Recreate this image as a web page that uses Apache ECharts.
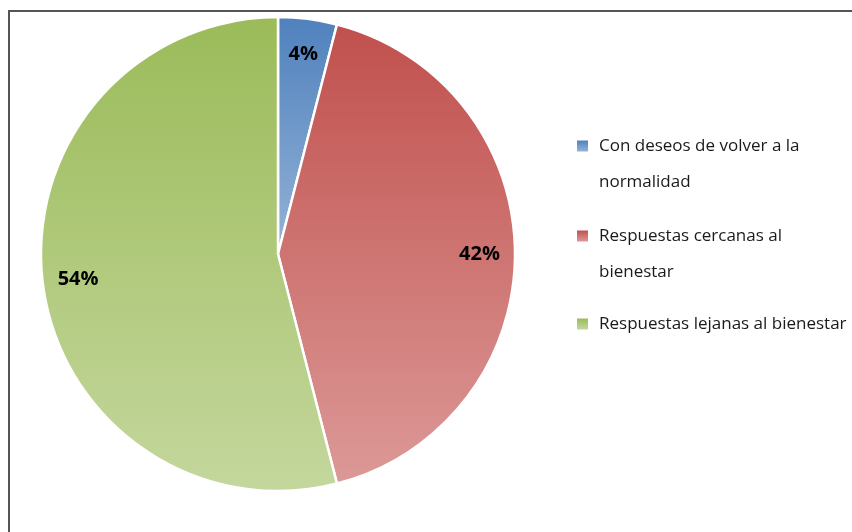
<!DOCTYPE html>
<html>
<head>
<meta charset="utf-8">
<script src="https://cdn.jsdelivr.net/npm/echarts@6/dist/echarts.min.js"></script>
<style>
  html, body { margin: 0; padding: 0; background: #ffffff; }
  #wrap { position: relative; width: 852px; height: 532px; overflow: hidden; }
  #frame { position: absolute; left: 8px; top: 10px; width: 900px; height: 600px;
           border-left: 2px solid #555555; border-top: 2px solid #555555; }
  #chart { position: absolute; left: 0; top: 0; width: 852px; height: 532px; }
</style>
</head>
<body>
<div id="wrap">
  <div id="frame"></div>
  <div id="chart"></div>
</div>
<script>
// Categories and their shares (percent)
const categories = [
  'Con deseos de volver a la normalidad',
  'Respuestas cercanas al bienestar',
  'Respuestas lejanas al bienestar'
];
const values = [4, 42, 54];
// Legend text as wrapped in the legend box
const legendLabels = [
  'Con deseos de volver a la\nnormalidad',
  'Respuestas cercanas al\nbienestar',
  'Respuestas lejanas al bienestar'
];
// Top / bottom colours of each slice's vertical gradient
const topColors = ['#4f81bd', '#c0504d', '#9bbb59'];
const bottomColors = ['#95b3d7', '#dc9997', '#c4d79d'];

const gradient = (i) => ({
  type: 'linear', x: 0, y: 0, x2: 0, y2: 1,
  colorStops: [
    { offset: 0, color: topColors[i] },
    { offset: 1, color: bottomColors[i] }
  ]
});

const center = [278, 254];
const LINE_H = 36;
const legendTops = [92, 182, 306];

function draw() {
  const pieData = categories.map((name, i) => ({
    name: name,
    value: values[i],
    itemStyle: { color: gradient(i) }
  }));

  // The legend centres text on its marker; an empty leading line for every
  // wrapped line keeps the marker level with the first line of text.
  const legends = categories.map((name, i) => {
    const lines = legendLabels[i].split('\n');
    const text = '\n'.repeat(lines.length - 1) + legendLabels[i];
    return {
      data: [name],
      orient: 'vertical',
      left: 577,
      top: legendTops[i],
      padding: 0,
      icon: 'rect',
      itemWidth: 11,
      itemHeight: 11,
      itemGap: 0,
      selectedMode: false,
      itemStyle: { borderWidth: 0 },
      formatter: () => text,
      textStyle: {
        fontFamily: 'Open Sans',
        fontSize: 17,
        color: '#1a1a1a',
        lineHeight: LINE_H,
        padding: [0, 0, 0, 6]
      }
    };
  });

  const chart = echarts.init(document.getElementById('chart'), null, { renderer: 'canvas' });
  chart.setOption({
    animation: false,
    legend: legends,
    series: [
      {
        type: 'pie',
        center: center,
        radius: 237,
        startAngle: 90,
        clockwise: true,
        silent: true,
        itemStyle: { borderColor: '#ffffff', borderWidth: 2.5 },
        label: { show: false },
        labelLine: { show: false },
        emphasis: { disabled: true },
        data: pieData
      },
      {
        // transparent ring that only carries the percentage labels
        type: 'pie',
        center: center,
        radius: [160, 237],
        startAngle: 90,
        clockwise: true,
        silent: true,
        legendHoverLink: false,
        itemStyle: { color: 'rgba(0,0,0,0)', borderWidth: 0 },
        label: {
          show: true,
          position: 'inside',
          formatter: (p) => p.value + '%',
          fontFamily: 'Open Sans',
          fontWeight: 'bold',
          fontSize: 20,
          color: '#000000'
        },
        labelLine: { show: false },
        emphasis: { disabled: true },
        data: categories.map((name, i) => ({ name: name, value: values[i] }))
      }
    ]
  });
}

// Make sure the faces are ready before measuring any text
Promise.all([
  document.fonts.load('17px "Open Sans"'),
  document.fonts.load('bold 20px "Open Sans"')
]).then(draw, draw);
</script>
</body>
</html>
